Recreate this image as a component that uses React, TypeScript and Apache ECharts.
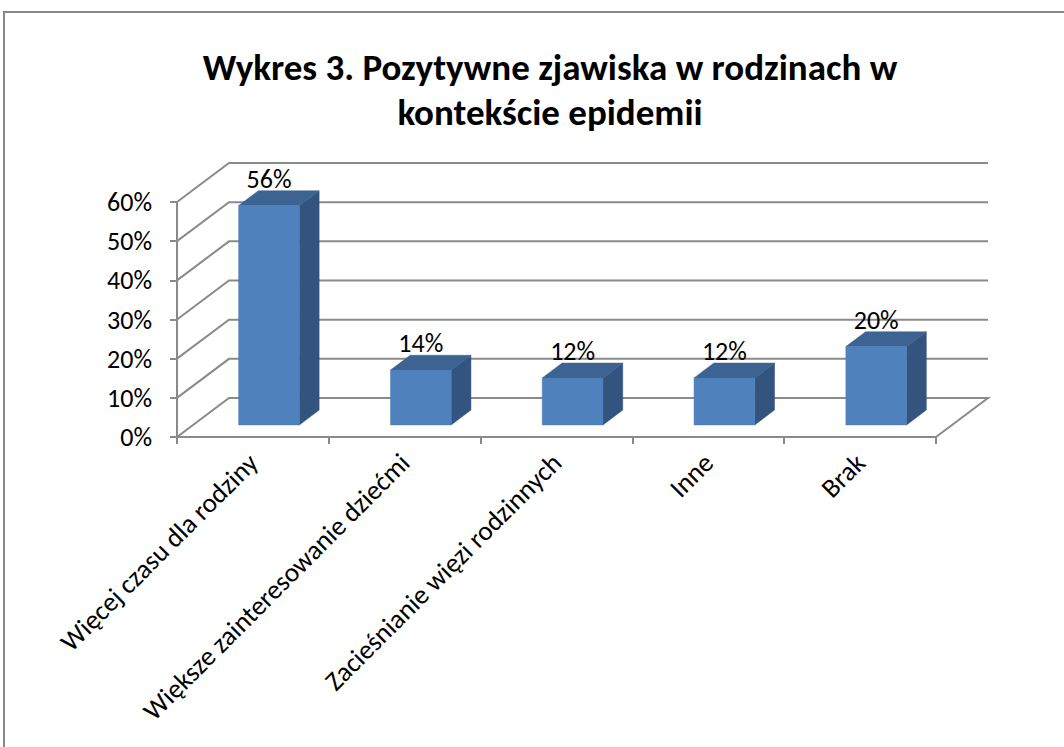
import React, { useEffect, useRef } from "react";
import * as echarts from "echarts";

const titleText = "Wykres 3. Pozytywne zjawiska w rodzinach w\nkontekście epidemii";
const categories = [
  "Więcej czasu dla rodziny",
  "Większe zainteresowanie dziećmi",
  "Zacieśnianie więzi rodzinnych",
  "Inne",
  "Brak",
];
const values = [56, 14, 12, 12, 20];
const yTicks = [0, 10, 20, 30, 40, 50, 60];

const FONT = "Carlito, Lato, 'Open Sans', sans-serif";
const DX = 52;
const DY = -39;
const FRONT = 0.31;
const BACK = 0.69;
const GRID_COLOR = "#8a8a8a";

export default function App() {
  const ref = useRef<HTMLDivElement>(null);
  useEffect(() => {
    if (!ref.current) return;
    const chart = echarts.init(ref.current, null, { renderer: "svg" });
    const nCat = categories.length;
    const option: any = {
      animation: false,
      backgroundColor: "#ffffff",
      title: {
        text: titleText,
        left: 545,
        top: 40,
        textAlign: "center",
        textStyle: {
          fontFamily: FONT,
          fontSize: 37,
          fontWeight: "bold",
          color: "#000",
          lineHeight: 45,
        },
      },
      graphic: [
        {
          type: "rect",
          shape: { x: 4, y: 12, width: 1100, height: 800 },
          style: { fill: "none", stroke: "#888888", lineWidth: 2 },
          silent: true,
        },
      ],
      grid: { left: 177, top: 202, width: 759, height: 235, containLabel: false },
      xAxis: {
        type: "category",
        data: categories,
        axisLine: { show: true, lineStyle: { color: GRID_COLOR, width: 2 } },
        axisTick: { show: true, length: 7, interval: 0, lineStyle: { color: GRID_COLOR, width: 2 } },
        axisLabel: {
          interval: 0,
          rotate: 45,
          margin: 21,
          color: "#000",
          fontFamily: FONT,
          fontSize: 27,
        },
        splitLine: { show: false },
      },
      yAxis: {
        type: "value",
        min: 0,
        max: 60,
        interval: 10,
        axisLine: { show: true, lineStyle: { color: GRID_COLOR, width: 2 } },
        axisTick: { show: true, length: 7, lineStyle: { color: GRID_COLOR, width: 2 } },
        axisLabel: {
          margin: 25,
          color: "#000",
          fontFamily: FONT,
          fontSize: 26,
          formatter: "{value}%",
        },
        splitLine: { show: false },
      },
      series: [
        {
          type: "custom",
          name: "walls",
          z: 1,
          clip: false,
          silent: true,
          data: yTicks.map((v) => [0, v]),
          encode: { x: 0, y: 1 },
          renderItem: (params: any, api: any) => {
            const v = api.value(1);
            const p = api.coord([0, v]);
            const w = api.size([1, 0])[0];
            const xL = p[0] - w / 2;
            const xR = xL + nCat * w;
            const y = p[1];
            const pts =
              v === 0
                ? [
                    [xL, y],
                    [xL + DX, y + DY],
                    [xR + DX, y + DY],
                    [xR, y],
                  ]
                : [
                    [xL, y],
                    [xL + DX, y + DY],
                    [xR + DX, y + DY],
                  ];
            return {
              type: "polyline",
              shape: { points: pts },
              style: { fill: "none", stroke: GRID_COLOR, lineWidth: 2 },
            };
          },
        },
        {
          type: "custom",
          name: "bars",
          z: 2,
          clip: false,
          data: values.map((v, i) => [i, v]),
          encode: { x: 0, y: 1 },
          renderItem: (params: any, api: any) => {
            const i = api.value(0);
            const v = api.value(1);
            const base = api.coord([i, 0]);
            const top = api.coord([i, v]);
            const w = api.size([1, 0])[0];
            const bw = w * 0.4;
            const xl = base[0] - bw / 2;
            const xr = base[0] + bw / 2;
            const y0 = base[1];
            const yT = top[1];
            const fdx = FRONT * DX, fdy = FRONT * DY;
            const bdx = BACK * DX, bdy = BACK * DY;
            return {
              type: "group",
              children: [
                {
                  type: "polygon",
                  shape: {
                    points: [
                      [xr + fdx, yT + fdy],
                      [xr + bdx, yT + bdy],
                      [xr + bdx, y0 + bdy],
                      [xr + fdx, y0 + fdy],
                    ],
                  },
                  style: { fill: "#33547f", stroke: "#33547f", lineWidth: 0.5 },
                },
                {
                  type: "polygon",
                  shape: {
                    points: [
                      [xl + fdx, yT + fdy],
                      [xr + fdx, yT + fdy],
                      [xr + bdx, yT + bdy],
                      [xl + bdx, yT + bdy],
                    ],
                  },
                  style: { fill: "#3c6392", stroke: "#3c6392", lineWidth: 0.5 },
                },
                {
                  type: "rect",
                  shape: { x: xl + fdx, y: yT + fdy, width: bw, height: y0 - yT },
                  style: { fill: "#4f81bd", stroke: "#4a7ab4", lineWidth: 0.5 },
                },
                {
                  type: "text",
                  style: {
                    text: v + "%",
                    x: base[0] + fdx,
                    y: yT + bdy - 12,
                    fill: "#000",
                    fontFamily: FONT,
                    fontSize: 26,
                    align: "center",
                    verticalAlign: "middle",
                  },
                },
              ],
            };
          },
        },
      ],
    };
    chart.setOption(option);
    return () => chart.dispose();
  }, []);
  return (
    <div
      ref={ref}
      style={{ position: "fixed", left: 0, top: 0, width: 1064, height: 747, background: "#fff" }}
    />
  );
}
